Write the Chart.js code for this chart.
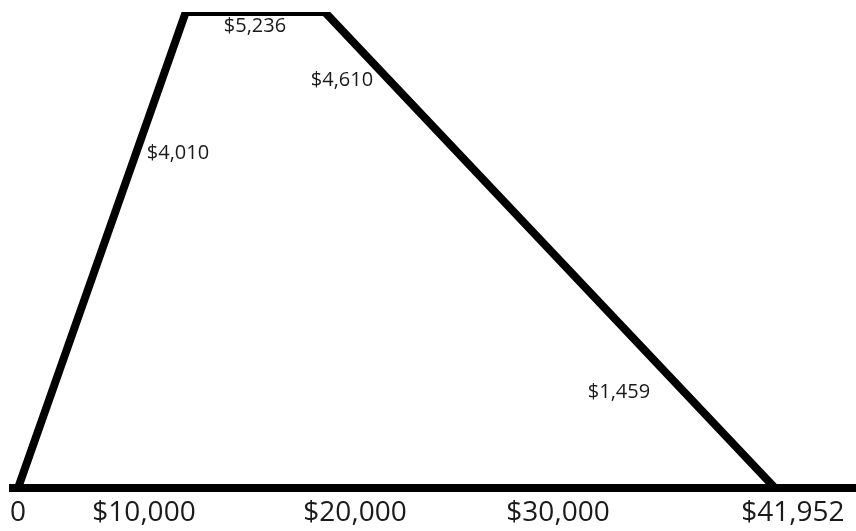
<!DOCTYPE html>
<html>
<head>
<meta charset="utf-8">
<script src="https://cdn.jsdelivr.net/npm/chart.js@4/dist/chart.umd.min.js"></script>
<style>
  html, body { margin: 0; padding: 0; background: #fff; }
  #wrap { width: 856px; height: 531px; }
</style>
</head>
<body>
<div id="wrap"><canvas id="creditChart"></canvas></div>
<script>
// income (x) and credit (y) at the corners of the curve
const income = [0, 9300, 17000, 41952];
const credit = [0, 5236, 5236, 0];

// x-axis labels and where they sit along the drawn axis
const tickLabels = ["0", "$10,000", "$20,000", "$30,000", "$41,952"];
const tickAt = [0, 6983, 18677, 29927, 42945];

// credit amounts written next to the curve, placed in data units
const noteText = ["$4,010", "$5,236", "$4,610", "$1,459"];
const noteX = [8867, 13134, 17956, 33307];
const noteY = [3678, 5076, 4482, 1057];

const FONT = "'Open Sans', 'DejaVu Sans', sans-serif";

// draw the small value notes
const notesPlugin = {
  id: "notes",
  afterDatasetsDraw(chart) {
    const ctx = chart.ctx;
    const xs = chart.scales.x, ys = chart.scales.y;
    ctx.save();
    ctx.font = "20px " + FONT;
    ctx.fillStyle = "#1a1a1a";
    ctx.textAlign = "center";
    ctx.textBaseline = "middle";
    noteText.forEach((t, i) => {
      ctx.fillText(t, xs.getPixelForValue(noteX[i]), ys.getPixelForValue(noteY[i]));
    });
    ctx.restore();
  }
};

const ctx = document.getElementById("creditChart").getContext("2d");
new Chart(ctx, {
  type: "line",
  data: {
    datasets: [
      {
        data: income.map((x, i) => ({ x: x, y: credit[i] })),
        borderColor: "#000",
        borderWidth: 8,
        borderJoinStyle: "miter",
        pointRadius: 0,
        fill: false,
        tension: 0,
      },
    ],
  },
  options: {
    responsive: true,
    maintainAspectRatio: false,
    animation: false,
    layout: { padding: { left: 13, right: 0, top: 12, bottom: 0 } },
    plugins: {
      legend: { display: false },
      tooltip: { enabled: false },
    },
    scales: {
      x: {
        type: "linear",
        min: -277,
        max: 46442,
        grid: { display: false, drawTicks: false },
        border: { display: true, color: "#000", width: 8 },
        afterBuildTicks: (axis) => {
          axis.ticks = tickAt.map((v) => ({ value: v }));
        },
        afterFit: (axis) => { axis.height = 43; },
        ticks: {
          autoSkip: false,
          maxRotation: 0,
          padding: 8,
          color: "#1a1a1a",
          font: { family: FONT, size: 28 },
          callback: (value, index) => tickLabels[index],
        },
      },
      y: {
        display: false,
        min: 0,
        max: 5236,
      },
    },
  },
  plugins: [notesPlugin],
});
</script>
</body>
</html>
